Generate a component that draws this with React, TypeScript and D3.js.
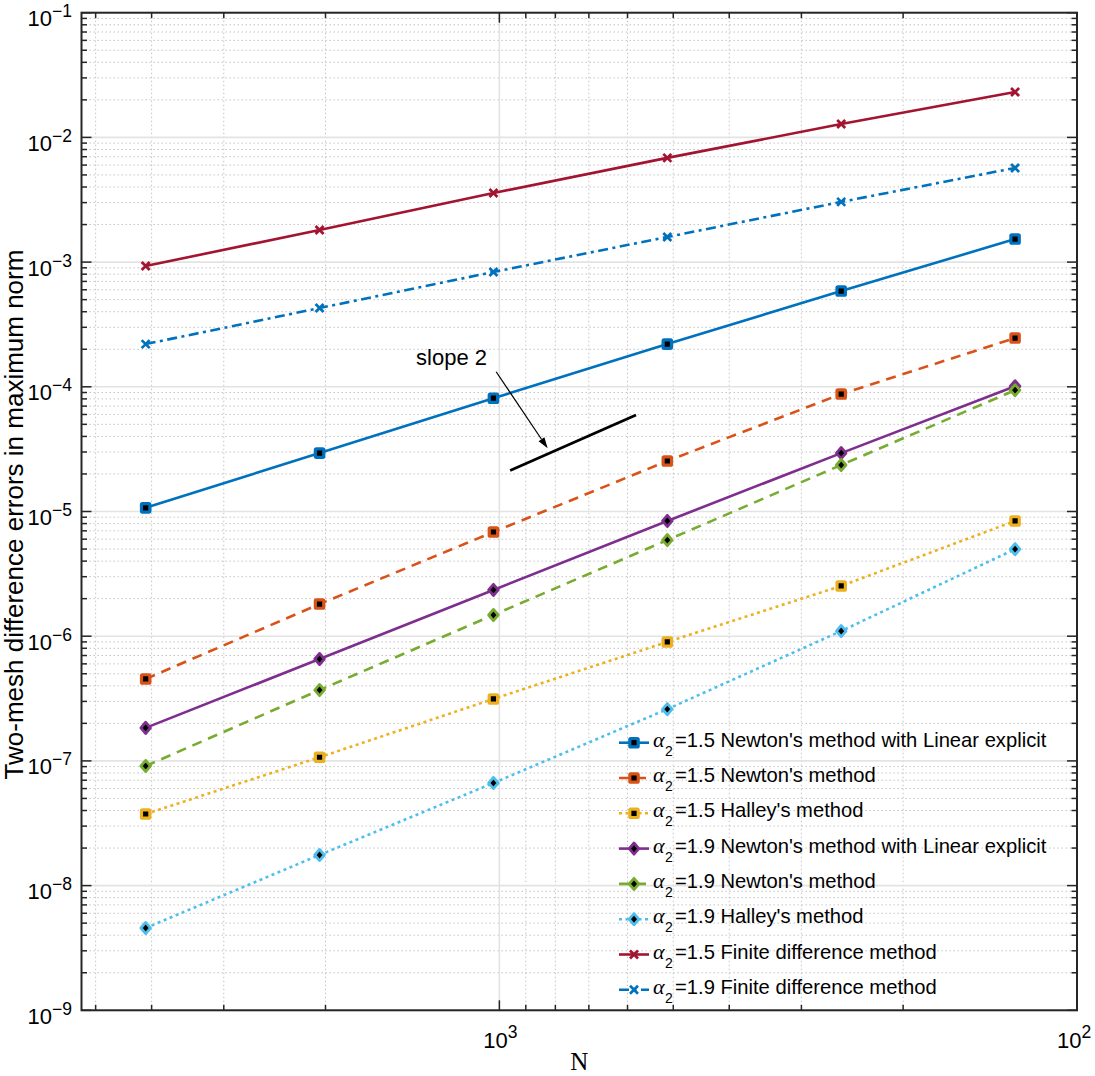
import React from "react";
import * as d3 from "d3";

// ---------------- data ----------------
const N = [4096, 2048, 1024, 512, 256, 128];

const a15NewtonLinear = [1.07e-5, 2.94e-5, 8.1e-5, 2.2e-4, 5.86e-4, 1.53e-3];
const a15Newton = [4.54e-7, 1.81e-6, 6.85e-6, 2.54e-5, 8.75e-5, 2.46e-4];
const a15Halley = [3.75e-8, 1.07e-7, 3.14e-7, 8.99e-7, 2.53e-6, 8.4e-6];
const a19NewtonLinear = [1.84e-7, 6.56e-7, 2.35e-6, 8.4e-6, 2.94e-5, 1.01e-4];
const a19Newton = [9.1e-8, 3.7e-7, 1.48e-6, 5.9e-6, 2.36e-5, 9.4e-5];
const a19Halley = [4.57e-9, 1.76e-8, 6.65e-8, 2.6e-7, 1.1e-6, 4.99e-6];
const a15FD = [9.3e-4, 1.81e-3, 3.58e-3, 6.85e-3, 1.28e-2, 2.31e-2];
const a19FD = [2.2e-4, 4.28e-4, 8.33e-4, 1.59e-3, 3.04e-3, 5.69e-3];

const alphas = ["1.5", "1.5", "1.5", "1.9", "1.9", "1.9", "1.5", "1.9"];
const methodNames = [
  "Newton's method with Linear explicit",
  "Newton's method",
  "Halley's method",
  "Newton's method with Linear explicit",
  "Newton's method",
  "Halley's method",
  "Finite difference method",
  "Finite difference method",
];
const seriesValues = [
  a15NewtonLinear,
  a15Newton,
  a15Halley,
  a19NewtonLinear,
  a19Newton,
  a19Halley,
  a15FD,
  a19FD,
];
const colors = ["#0072BD", "#D95319", "#EDB120", "#7E2F8E", "#77AC30", "#4DBEEE", "#A2142F", "#0072BD"];
const dashes = ["", "10,7", "3,3.5", "", "10,7", "3,3.5", "", "10,4.5,3,4.5"];
const markers = ["square", "square", "square", "diamond", "diamond", "diamond", "x", "x"];

const xDomain = [5290, 100];
const yDomain = [1e-9, 1e-1];
const xMajorTicks = [1000, 100];
const xMinorTicks = [200, 300, 400, 500, 600, 700, 800, 900, 2000, 3000, 4000, 5000];
const xTickExp = ["3", "2"];
const yDecades = [-9, -8, -7, -6, -5, -4, -3, -2, -1];

// annotation (data coordinates)
const slopeLineN = [958, 580];
const slopeLineE = [2.13e-5, 5.94e-5];
const arrowN = [1013, 825];
const arrowE = [1.32e-4, 3.21e-5];
const slopeText = "slope 2";
const slopeTextPos = [1394, 1.5e-4];

// ---------------- layout ----------------
const W = 1095;
const H = 1076;
const L = 81.5;
const R = 1077;
const T = 12.7;
const B = 1010.3;

const SANS = "'Liberation Sans', Arial, Helvetica, sans-serif";
const SERIF = "'Liberation Serif', 'Times New Roman', serif";
const AX = "#262626";

function Marker({ type, color, x, y }: { type: string; color: string; x: number; y: number }) {
  if (type === "square") {
    return <rect x={x - 4.2} y={y - 4.2} width={8.4} height={8.4} rx={1} fill="#000" stroke={color} strokeWidth={3.2} />;
  }
  if (type === "diamond") {
    return (
      <path
        d={`M${x},${y - 5.6}L${x + 4.8},${y}L${x},${y + 5.6}L${x - 4.8},${y}Z`}
        fill="#000"
        stroke={color}
        strokeWidth={2.8}
        strokeLinejoin="round"
      />
    );
  }
  return (
    <path
      d={`M${x - 4},${y - 4}L${x + 4},${y + 4}M${x - 4},${y + 4}L${x + 4},${y - 4}`}
      stroke={color}
      strokeWidth={2.7}
      fill="none"
    />
  );
}

export default function App() {
  const x = d3.scaleLog().domain(xDomain).range([L, R]);
  const y = d3.scaleLog().domain(yDomain).range([B, T]);
  const line = d3
    .line<number>()
    .x((_, i) => x(N[i]))
    .y((d) => y(d));

  const yMinor: number[] = [];
  for (let e = -9; e < -1; e++) {
    for (let m = 2; m <= 9; m++) yMinor.push(m * Math.pow(10, e));
  }

  const legendY0 = 742.7;
  const legendStep = 35.3;

  const ax0 = x(arrowN[0]);
  const ay0 = y(arrowE[0]);
  const ax1 = x(arrowN[1]);
  const ay1 = y(arrowE[1]);
  const ang = Math.atan2(ay1 - ay0, ax1 - ax0);
  const hl = 11;
  const hw = 3.5;
  const bx = ax1 - hl * Math.cos(ang);
  const by = ay1 - hl * Math.sin(ang);
  const head = `M${ax1},${ay1}L${bx + hw * Math.sin(ang)},${by - hw * Math.cos(ang)}L${bx - hw * Math.sin(ang)},${by + hw * Math.cos(ang)}Z`;

  return (
    <svg width={W} height={H} style={{ position: "absolute", left: 0, top: 0, background: "#fff" }}>
      <rect x={0} y={0} width={W} height={H} fill="#fff" />
      {/* minor grid */}
      <g stroke="#c4c4c4" strokeWidth={1} strokeDasharray="1.5,2.5">
        {yMinor.map((v, i) => (
          <line key={"ym" + i} x1={L} x2={R} y1={y(v)} y2={y(v)} />
        ))}
        {xMinorTicks.map((v, i) => (
          <line key={"xm" + i} x1={x(v)} x2={x(v)} y1={T} y2={B} />
        ))}
      </g>
      {/* major grid */}
      <g stroke="#e3e3e3" strokeWidth={1.6}>
        {yDecades.map((e) => (
          <line key={"yM" + e} x1={L} x2={R} y1={y(Math.pow(10, e))} y2={y(Math.pow(10, e))} />
        ))}
        {xMajorTicks.map((v) => (
          <line key={"xM" + v} x1={x(v)} x2={x(v)} y1={T} y2={B} />
        ))}
      </g>

      {/* data */}
      {seriesValues.map((vals, si) => (
        <g key={"s" + si}>
          <path
            d={line(vals) || ""}
            fill="none"
            stroke={colors[si]}
            strokeWidth={2.6}
            strokeDasharray={dashes[si] || undefined}
          />
          {vals.map((v, i) => (
            <Marker key={i} type={markers[si]} color={colors[si]} x={x(N[i])} y={y(v)} />
          ))}
        </g>
      ))}

      {/* annotation */}
      <line
        x1={x(slopeLineN[0])}
        y1={y(slopeLineE[0])}
        x2={x(slopeLineN[1])}
        y2={y(slopeLineE[1])}
        stroke="#000"
        strokeWidth={2.7}
      />
      <line x1={ax0} y1={ay0} x2={bx} y2={by} stroke="#000" strokeWidth={1.2} />
      <path d={head} fill="#000" />
      <text x={x(slopeTextPos[0])} y={y(slopeTextPos[1])} fontFamily={SANS} fontSize={22} fill="#000">
        {slopeText}
      </text>

      {/* axes box */}
      <rect x={L} y={T} width={R - L} height={B - T} fill="none" stroke={AX} strokeWidth={2} />
      {/* ticks */}
      <g stroke={AX} strokeWidth={1.5}>
        {yDecades.map((e) => {
          const yy = y(Math.pow(10, e));
          return (
            <g key={"yt" + e}>
              <line x1={L} x2={L + 10} y1={yy} y2={yy} />
              <line x1={R} x2={R - 10} y1={yy} y2={yy} />
            </g>
          );
        })}
        {yMinor.map((v, i) => (
          <g key={"ymt" + i}>
            <line x1={L} x2={L + 5.5} y1={y(v)} y2={y(v)} />
            <line x1={R} x2={R - 5.5} y1={y(v)} y2={y(v)} />
          </g>
        ))}
        {xMajorTicks.map((v) => (
          <g key={"xt" + v}>
            <line x1={x(v)} x2={x(v)} y1={B} y2={B - 10} />
            <line x1={x(v)} x2={x(v)} y1={T} y2={T + 10} />
          </g>
        ))}
        {xMinorTicks.map((v, i) => (
          <g key={"xmt" + i}>
            <line x1={x(v)} x2={x(v)} y1={B} y2={B - 5.5} />
            <line x1={x(v)} x2={x(v)} y1={T} y2={T + 5.5} />
          </g>
        ))}
      </g>

      {/* tick labels */}
      <g fontFamily={SANS} fill="#000">
        {yDecades.map((e) => (
          <text key={"yl" + e} x={72} y={y(Math.pow(10, e)) + 13.5} fontSize={22} textAnchor="end">
            10
            <tspan dy={-9} fontSize={17.5}>
              {"\u2212" + Math.abs(e)}
            </tspan>
          </text>
        ))}
        {xMajorTicks.map((v, i) => (
          <text key={"xl" + v} x={Math.min(x(v) + 1, 1074)} y={1048} fontSize={22} textAnchor="middle">
            10
            <tspan dy={-10} fontSize={17.5}>
              {xTickExp[i]}
            </tspan>
          </text>
        ))}
      </g>

      {/* axis labels */}
      <text
        transform={`translate(22.5,${(T + B) / 2 + 3}) rotate(-90)`}
        textAnchor="middle"
        fontFamily={SANS}
        fontSize={26}
        fill="#000"
      >
        Two-mesh difference errors in maximum norm
      </text>
      <text x={(L + R) / 2} y={1070} textAnchor="middle" fontFamily={SERIF} fontSize={25} fill="#000">
        N
      </text>

      {/* legend */}
      {alphas.map((a, i) => {
        const ly = legendY0 + i * legendStep;
        return (
          <g key={"lg" + i}>
            <line
              x1={619}
              x2={649}
              y1={ly}
              y2={ly}
              stroke={colors[i]}
              strokeWidth={2.6}
              strokeDasharray={dashes[i] || undefined}
            />
            <Marker type={markers[i]} color={colors[i]} x={634} y={ly} />
            <text y={ly + 4} fill="#000">
              <tspan x={653} fontFamily={SERIF} fontStyle="italic" fontSize={22}>
                α
              </tspan>
              <tspan x={665} y={ly + 13} fontFamily={SANS} fontSize={14}>
                2
              </tspan>
              <tspan x={675} y={ly + 4} fontFamily={SANS} fontSize={20.2}>
                {"=" + a + " " + methodNames[i]}
              </tspan>
            </text>
          </g>
        );
      })}
    </svg>
  );
}
